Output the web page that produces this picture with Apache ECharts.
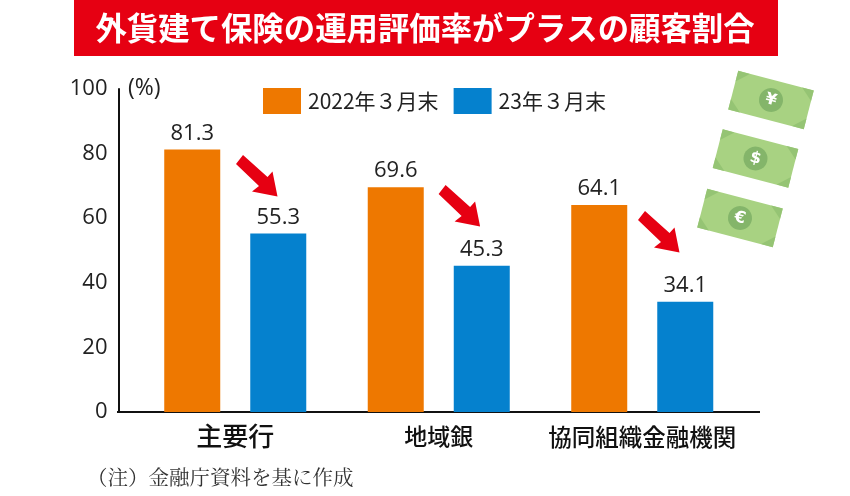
<!DOCTYPE html>
<html>
<head>
<meta charset="utf-8">
<style>
  html, body { margin: 0; padding: 0; background: #fff; }
  #chart { width: 850px; height: 496px; }
</style>
<script src="https://cdn.jsdelivr.net/npm/echarts@6/dist/echarts.min.js"></script>
</head>
<body>
<div id="chart"></div>
<script>
const categories = ["主要行", "地域銀", "協同組織金融機関"];
const values2022 = [81.3, 69.6, 64.1];
const values2023 = [55.3, 45.3, 34.1];
const yTicks = [0, 20, 40, 60, 80, 100];
const seriesNames = ["2022年３月末", "23年３月末"];
const titleText = "外貨建て保険の運用評価率がプラスの顧客割合";
const noteText = "（注）金融庁資料を基に作成";

const FONT = '"Noto Sans CJK JP", "Noto Sans", sans-serif';
const NUM_FONT = '"Open Sans", "Noto Sans", sans-serif';
const SERIF = '"Noto Serif CJK JP", "Noto Sans CJK JP", serif';

// 赤い矢印
function arrow(dx, dy) {
  return {
    type: "polygon",
    x: dx,
    y: dy,
    shape: {
      points: [[236, 164], [243, 155], [267.5, 177], [272.5, 171.5], [277.5, 196.5], [252, 191.5], [259, 186]],
    },
    style: { fill: "#e60012" },
  };
}

// お札のイラスト
function bill(cx, cy, symbol) {
  return {
    type: "group",
    x: cx,
    y: cy,
    rotation: -(14.5 * Math.PI) / 180,
    children: [
      { type: "rect", shape: { x: -39, y: -20, width: 78, height: 40 }, style: { fill: "#a8d282" } },
      { type: "polygon", shape: { points: [[-39, -20], [-27, -20], [-39, -9]] }, style: { fill: "#95c474" } },
      { type: "polygon", shape: { points: [[39, -20], [27, -20], [39, -9]] }, style: { fill: "#95c474" } },
      { type: "polygon", shape: { points: [[-39, 20], [-27, 20], [-39, 9]] }, style: { fill: "#95c474" } },
      { type: "polygon", shape: { points: [[39, 20], [27, 20], [39, 9]] }, style: { fill: "#95c474" } },
      { type: "circle", shape: { cx: 0, cy: 0, r: 12 }, style: { fill: "#84b56a" } },
      {
        type: "text",
        style: {
          x: 0, y: 0, text: symbol, fill: "#fff",
          font: 'bold 16px "DejaVu Sans", sans-serif',
          textAlign: "center", textVerticalAlign: "middle",
        },
      },
    ],
  };
}

const chart = echarts.init(document.getElementById("chart"), null, { renderer: "canvas" });

const valueLabel = {
  show: true,
  position: "top",
  distance: 5,
  fontFamily: NUM_FONT,
  fontSize: 22,
  color: "#222",
  formatter: (p) => p.value.toFixed(1),
};

const option = {
  animation: false,
  backgroundColor: "#fff",
  textStyle: { fontFamily: FONT },
  grid: { left: 133.5, top: 89, width: 610.5, height: 323 },
  legend: {
    left: 258,
    top: 83,
    itemWidth: 38,
    itemHeight: 26,
    itemGap: 15,
    icon: "rect",
    data: seriesNames,
    textStyle: { fontFamily: FONT, fontSize: 21, color: "#222", padding: [0, 0, 0, 2] },
  },
  xAxis: {
    type: "category",
    data: categories,
    axisTick: { show: false },
    axisLine: { lineStyle: { color: "#111", width: 2 } },
    axisLabel: {
      interval: 0,
      margin: 11,
      formatter: function (v, i) {
        return "{c" + i + "|" + v + "}";
      },
      rich: {
        c0: { fontFamily: FONT, fontSize: 26, fontWeight: 500, color: "#111" },
        c1: { fontFamily: FONT, fontSize: 23, fontWeight: 500, color: "#111", padding: [2, 0, 0, 0] },
        c2: { fontFamily: FONT, fontSize: 23.5, fontWeight: 500, color: "#111", padding: [2, 0, 0, 0] },
      },
    },
  },
  yAxis: {
    type: "value",
    min: yTicks[0],
    max: yTicks[yTicks.length - 1],
    interval: 20,
    offset: 15,
    splitLine: { show: false },
    axisTick: { show: false },
    axisLine: { show: true, lineStyle: { color: "#111", width: 2 } },
    axisLabel: { fontFamily: NUM_FONT, fontSize: 22, color: "#222", margin: 11 },
  },
  series: [
    {
      name: seriesNames[0],
      type: "bar",
      data: values2022,
      barWidth: 56,
      barGap: "53.6%",
      itemStyle: { color: "#ee7800" },
      label: valueLabel,
    },
    {
      name: seriesNames[1],
      type: "bar",
      data: values2023,
      barWidth: 56,
      itemStyle: { color: "#0581ce" },
      label: valueLabel,
    },
  ],
  graphic: [
    { type: "rect", shape: { x: 74, y: 0, width: 704, height: 56 }, style: { fill: "#e60012" } },
    {
      type: "text",
      style: {
        x: 425, y: 28, text: titleText, fill: "#fff",
        font: "bold 31.4px " + FONT,
        textAlign: "center", textVerticalAlign: "middle",
      },
    },
    // x軸を左右へ延長
    { type: "rect", shape: { x: 117, y: 411, width: 643, height: 2 }, style: { fill: "#111" } },
    {
      type: "text",
      style: { x: 128, y: 88, text: "(%)", fill: "#222", font: "23px " + NUM_FONT, textVerticalAlign: "middle" },
    },
    arrow(0, 0),
    arrow(202.6, 30),
    arrow(402, 56),
    bill(771, 100, "¥"),
    bill(755.5, 158.5, "$"),
    bill(740, 218, "€"),
    {
      type: "text",
      style: { x: 87, y: 477, text: noteText, fill: "#333", font: "20.5px " + SERIF, textVerticalAlign: "middle" },
    },
  ],
};

chart.setOption(option);
</script>
</body>
</html>
